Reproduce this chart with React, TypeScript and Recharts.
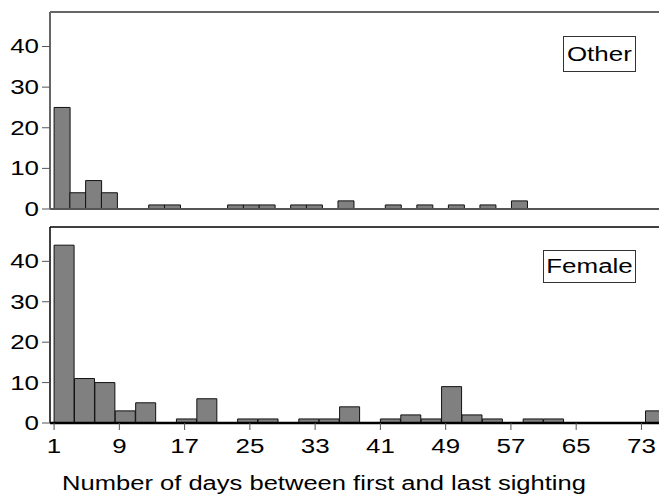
import React from "react";
import {
  ComposedChart,
  Bar,
  XAxis,
  YAxis,
  ReferenceLine,
} from "recharts";

// Bin centres (days) for each panel
const otherBins = [
  1.967, 3.9, 5.833, 7.767, 9.7, 11.633, 13.567, 15.5, 17.433, 19.367,
  21.3, 23.233, 25.167, 27.1, 29.033, 30.967, 32.9, 34.833, 36.767, 38.7,
  40.633, 42.567, 44.5, 46.433, 48.367, 50.3, 52.233, 54.167, 56.1, 58.033,
];
const otherCounts = [
  25, 4, 7, 4, 0, 0, 1, 1, 0, 0, 0, 1, 1, 1, 0, 1, 1, 0, 2, 0, 0, 1, 0, 1, 0,
  1, 0, 1, 0, 2,
];

const femaleBins = [
  2.25, 4.75, 7.25, 9.75, 12.25, 14.75, 17.25, 19.75, 22.25, 24.75, 27.25,
  29.75, 32.25, 34.75, 37.25, 39.75, 42.25, 44.75, 47.25, 49.75, 52.25, 54.75,
  57.25, 59.75, 62.25, 64.75, 67.25, 69.75, 72.25, 74.75,
];
const femaleCounts = [
  44, 11, 10, 3, 5, 0, 1, 6, 0, 1, 1, 0, 1, 1, 4, 0, 1, 2, 1, 9, 2, 1, 0, 1, 1,
  0, 0, 0, 0, 3,
];

const xTicks = [1, 9, 17, 25, 33, 41, 49, 57, 65, 73];
const yTicks = [0, 10, 20, 30, 40];
const xDomain = [0.5, 76.5];
const yDomain = [0, 48.5];
const xTitle = "Number of days between first and last sighting";

const otherData = otherBins.map((d, i) => ({ day: d, count: otherCounts[i] }));
const femaleData = femaleBins.map((d, i) => ({ day: d, count: femaleCounts[i] }));

const FONT = "'Liberation Sans', Arial, sans-serif";
const SX = 1.33;

const YTick = (props: any) => {
  const { x, y, payload } = props;
  return (
    <text
      transform={`translate(${x},${y}) scale(${SX},1)`}
      textAnchor="end"
      dy="0.355em"
      fontSize={19.5}
      fontFamily={FONT}
      fill="#000"
    >
      {payload.value}
    </text>
  );
};

const XTick = (props: any) => {
  const { x, y, payload } = props;
  return (
    <text
      transform={`translate(${x},${y}) scale(${SX},1)`}
      textAnchor="middle"
      dy="0.71em"
      fontSize={19.5}
      fontFamily={FONT}
      fill="#000"
    >
      {payload.value}
    </text>
  );
};

const XTitle = (props: any) => {
  const vb = props.viewBox || {};
  const y = (vb.y || 0) + 67;
  return (
    <text
      transform={`translate(324,${y}) scale(1.31,1)`}
      textAnchor="middle"
      fontSize={19.5}
      fontFamily={FONT}
      fill="#000"
    >
      {xTitle}
    </text>
  );
};

const boxStyle: React.CSSProperties = {
  position: "absolute",
  border: "1px solid #333",
  background: "#fff",
  fontFamily: FONT,
  fontSize: 19.5,
  color: "#000",
  display: "flex",
  alignItems: "center",
  justifyContent: "center",
  boxSizing: "border-box",
};

const Label = ({ text }: { text: string }) => (
  <span style={{ display: "inline-block", transform: `scaleX(${SX})` }}>{text}</span>
);

export default function App() {
  return (
    <div
      style={{
        position: "absolute",
        left: 0,
        top: 0,
        width: 659,
        height: 499,
        overflow: "hidden",
        background: "#fff",
      }}
    >
      <div style={{ position: "absolute", left: 0, top: 0 }}>
        <ComposedChart
          width={680}
          height={220}
          data={otherData}
          margin={{ top: 12, right: 10, left: 0, bottom: 0 }}
          barCategoryGap={0}
          barGap={0}
        >
          <XAxis
            dataKey="day"
            type="number"
            domain={xDomain}
            ticks={xTicks}
            tick={false}
            tickLine={false}
            height={11}
            axisLine={{ stroke: "#555", strokeWidth: 2 }}
          />
          <YAxis
            type="number"
            domain={yDomain}
            ticks={yTicks}
            width={50}
            tickSize={8}
            tickMargin={3}
            tick={<YTick />}
            tickLine={{ stroke: "#555" }}
            axisLine={{ stroke: "#666", strokeWidth: 2 }}
          />
          <ReferenceLine y={48.5} stroke="#666" strokeWidth={2} />
          <Bar
            dataKey="count"
            fill="#808080"
            stroke="#111"
            strokeWidth={1}
            isAnimationActive={false}
          />
        </ComposedChart>
      </div>
      <div style={{ position: "absolute", left: 0, top: 220 }}>
        <ComposedChart
          width={680}
          height={279}
          data={femaleData}
          margin={{ top: 7, right: 10, left: 0, bottom: 0 }}
          barCategoryGap={0}
          barGap={0}
        >
          <XAxis
            dataKey="day"
            type="number"
            domain={xDomain}
            ticks={xTicks}
            height={76}
            tickSize={7}
            tickMargin={9}
            tick={<XTick />}
            tickLine={{ stroke: "#555" }}
            axisLine={{ stroke: "#000", strokeWidth: 2.5 }}
            label={<XTitle />}
          />
          <YAxis
            type="number"
            domain={yDomain}
            ticks={yTicks}
            width={50}
            tickSize={8}
            tickMargin={3}
            tick={<YTick />}
            tickLine={{ stroke: "#555" }}
            axisLine={{ stroke: "#000", strokeWidth: 1.5 }}
          />
          <ReferenceLine y={48.5} stroke="#000" strokeWidth={1.5} />
          <Bar
            dataKey="count"
            fill="#808080"
            stroke="#111"
            strokeWidth={1}
            isAnimationActive={false}
          />
        </ComposedChart>
      </div>
      <div style={{ ...boxStyle, left: 563, top: 36, width: 73, height: 36 }}>
        <Label text="Other" />
      </div>
      <div style={{ ...boxStyle, left: 543, top: 250, width: 93, height: 33 }}>
        <Label text="Female" />
      </div>
    </div>
  );
}
